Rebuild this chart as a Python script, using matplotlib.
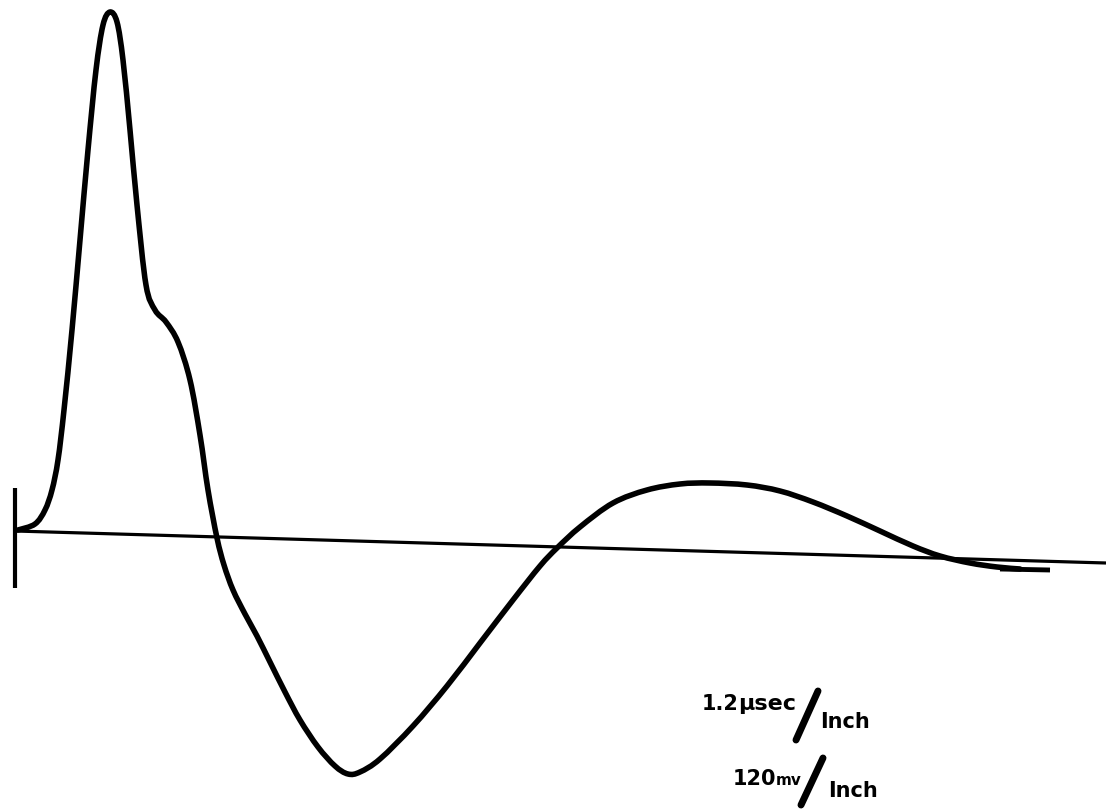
import numpy as np
import matplotlib.pyplot as plt
from matplotlib.path import Path
from matplotlib.patches import PathPatch

# trace, screen units (x right, y down)
trace_x = [18, 35, 45, 52, 58, 64, 72, 80, 88, 96, 103, 110, 117, 123, 130, 137,
           146, 155, 166, 178, 190, 200, 208, 217, 224, 233, 245, 257, 270, 285,
           300, 318, 335, 348, 360, 380, 413, 447, 480, 513, 540, 557, 580, 613,
           647, 680, 710, 747, 780, 813, 847, 880, 913, 940, 970, 997, 1020]
trace_y = [530, 524, 510, 490, 460, 410, 330, 240, 150, 70, 25, 12, 22, 60, 130,
           205, 285, 310, 322, 342, 380, 435, 490, 538, 565, 590, 614, 636, 662,
           692, 720, 747, 766, 774, 772, 759, 726, 686, 643, 600, 566, 548, 527,
           503, 490, 484, 483, 485, 491, 502, 516, 531, 546, 556, 563, 567, 569]

# zero line and start marker
base_x = [15, 1106]
base_y = [531, 563]
tick_x = [15, 15]
tick_y = [488, 588]

# short heavy dash where the trace settles
dash_x = [1000, 1050]
dash_y = [569, 570]


def smooth_path(xs, ys):
    # Catmull-Rom through the points, written as cubic Bezier segments
    p = np.column_stack([xs, ys]).astype(float)
    p = np.vstack([p[0], p, p[-1]])
    verts = [p[1]]
    codes = [Path.MOVETO]
    for i in range(1, len(p) - 2):
        c1 = p[i] + (p[i + 1] - p[i - 1]) / 6
        c2 = p[i + 1] - (p[i + 2] - p[i]) / 6
        verts += [c1, c2, p[i + 1]]
        codes += [Path.CURVE4] * 3
    return Path(verts, codes)


fig = plt.figure(figsize=(11.06, 8.09), dpi=100)
ax = fig.add_axes([0, 0, 1, 1])
ax.set_xlim(0, 1106)
ax.set_ylim(809, 0)
ax.axis('off')

ax.plot(base_x, base_y, color='black', lw=2.3, solid_capstyle='butt')
ax.plot(tick_x, tick_y, color='black', lw=3.0, solid_capstyle='butt')
ax.add_patch(PathPatch(smooth_path(trace_x, trace_y), fill=False,
                       edgecolor='black', lw=4.0, capstyle='round',
                       joinstyle='round'))
ax.plot(dash_x, dash_y, color='black', lw=3.5, solid_capstyle='butt')

# scale notes
fw = dict(color='black', fontweight='bold', family='DejaVu Sans',
          ha='left', va='baseline')
ax.text(702, 710, '1.2', fontsize=15, **fw)
ax.text(738, 710, 'µsec', fontsize=16, **fw)
ax.plot([796, 818], [740, 691], color='black', lw=5, solid_capstyle='round')
ax.text(820, 728, 'Inch', fontsize=15, **fw)

ax.text(733, 785, '120', fontsize=15, **fw)
ax.text(776, 785, 'mv', fontsize=11, **fw)
ax.plot([801, 823], [805, 758], color='black', lw=5, solid_capstyle='round')
ax.text(828, 797, 'Inch', fontsize=15, **fw)

fig.savefig('out.png', dpi=100, facecolor='white')
